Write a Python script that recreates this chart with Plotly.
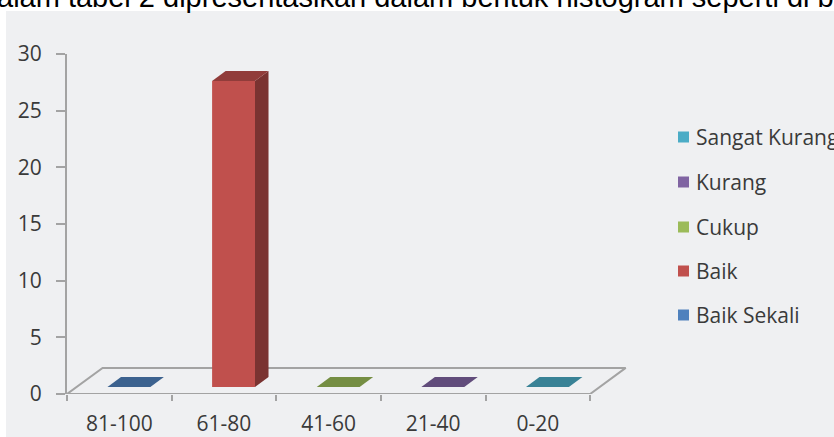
import plotly.graph_objects as go

# --- data -------------------------------------------------------------
intervals = ["81-100", "61-80", "41-60", "21-40", "0-20"]
kategori = ["Baik Sekali", "Baik", "Cukup", "Kurang", "Sangat Kurang"]
frekuensi = [0, 27, 0, 0, 0]
warna = ["#4f81bd", "#c0504d", "#9bbb59", "#8064a2", "#4bacc6"]
y_ticks = [0, 5, 10, 15, 20, 25, 30]
caption = "alam tabel 2 dipresentasikan dalam bentuk histogram seperti di b"

# --- geometry of the pseudo-3D view (in axis units) -------------------
W, H = 834, 437
ML, MT, MB = 67, 54, 43
X_RANGE = [-0.5, 4.9]
Y_RANGE = [0, 30]
PLOT_W = 565
MR = W - ML - PLOT_W
PLOT_H = H - MT - MB

DX, DY = 0.34, 2.3          # floor depth offset
D_FRONT, D_BACK = 0.27, 0.65  # bar depth inside the floor
HALF = 0.205                # half bar width


def proj(x, y, d):
    return x + d * DX, y + d * DY


def shade(hexcol, f):
    h = hexcol.lstrip("#")
    r, g, b = (int(h[i:i + 2], 16) for i in (0, 2, 4))
    return "rgb(%d,%d,%d)" % (r * f, g * f, b * f)


def poly(points, color):
    xs, ys = zip(*points)
    return go.Scatter(x=list(xs) + [xs[0]], y=list(ys) + [ys[0]], mode="lines",
                      fill="toself", fillcolor=color, line=dict(width=0, color=color),
                      hoverinfo="skip", showlegend=False)


fig = go.Figure()

# floor outline
n = len(intervals)
x_lo, x_hi = -0.5, n - 0.5
floor = [proj(x_lo, 0, 0), proj(x_hi, 0, 0), proj(x_hi, 0, 1), proj(x_lo, 0, 1), proj(x_lo, 0, 0)]
fig.add_trace(go.Scatter(x=[p[0] for p in floor], y=[p[1] for p in floor], mode="lines",
                         line=dict(color="#a3a3a3", width=2), hoverinfo="skip", showlegend=False))

# 3D bars
for i, (v, c) in enumerate(zip(frekuensi, warna)):
    x0, x1 = i - HALF, i + HALF
    if v > 0:
        fig.add_trace(poly([proj(x0, 0, D_FRONT), proj(x1, 0, D_FRONT),
                            proj(x1, v, D_FRONT), proj(x0, v, D_FRONT)], c))
        fig.add_trace(poly([proj(x1, 0, D_FRONT), proj(x1, 0, D_BACK),
                            proj(x1, v, D_BACK), proj(x1, v, D_FRONT)], shade(c, 0.64)))
    fig.add_trace(poly([proj(x0, v, D_FRONT), proj(x1, v, D_FRONT),
                        proj(x1, v, D_BACK), proj(x0, v, D_BACK)], shade(c, 0.76)))


def px_x(px):
    return (px - ML) / PLOT_W


def px_y(py):
    return (H - MB - py) / PLOT_H


shapes = [
    # white page strips around the grey chart area
    dict(type="rect", xref="paper", yref="paper", x0=px_x(-5), x1=px_x(6), y0=px_y(H + 5), y1=px_y(-5),
         fillcolor="white", line=dict(width=0), layer="below"),
    dict(type="rect", xref="paper", yref="paper", x0=px_x(-5), x1=px_x(W + 5), y0=px_y(11), y1=px_y(-5),
         fillcolor="white", line=dict(width=0), layer="below"),
]

annotations = [
    dict(text=caption, xref="paper", yref="paper", x=px_x(-5), y=px_y(15), xanchor="left",
         yanchor="bottom", showarrow=False, font=dict(family="Liberation Sans, Arial", size=29, color="black")),
]

# legend (top entry = last category)
leg_y = [137, 182, 227, 271, 315]
for k, idx in enumerate(reversed(range(n))):
    cy = leg_y[k]
    shapes.append(dict(type="rect", xref="paper", yref="paper", x0=px_x(678), x1=px_x(689),
                       y0=px_y(cy + 5.5), y1=px_y(cy - 5.5), fillcolor=warna[idx], line=dict(width=0)))
    annotations.append(dict(text=kategori[idx], xref="paper", yref="paper", x=px_x(694), y=px_y(cy),
                            xanchor="left", yanchor="middle", showarrow=False,
                            font=dict(family="Open Sans", size=21, color="#3a3a3a")))

fig.update_layout(
    width=W, height=H,
    margin=dict(l=ML, r=MR, t=MT, b=MB, autoexpand=False),
    paper_bgcolor="#eff0f2", plot_bgcolor="rgba(0,0,0,0)",
    font=dict(family="Open Sans", size=21, color="#3a3a3a"),
    shapes=shapes, annotations=annotations, showlegend=False,
    xaxis=dict(range=X_RANGE, showgrid=False, zeroline=False, showline=False,
               tickvals=list(range(n)), ticktext=intervals, ticks="", ticklen=0,
               ticklabelstandoff=15, automargin=False,
               minor=dict(ticks="outside", tick0=-0.5, dtick=1, ticklen=6, tickwidth=2,
                          tickcolor="#a3a3a3", showgrid=False),
               fixedrange=True),
    yaxis=dict(range=Y_RANGE, tickvals=y_ticks, showgrid=False, zeroline=False,
               showline=True, linecolor="#a3a3a3", linewidth=2, automargin=False,
               ticks="outside", ticklen=9, tickwidth=2, tickcolor="#a3a3a3",
               ticklabelstandoff=10, fixedrange=True),
)

fig.write_html("out.html")
